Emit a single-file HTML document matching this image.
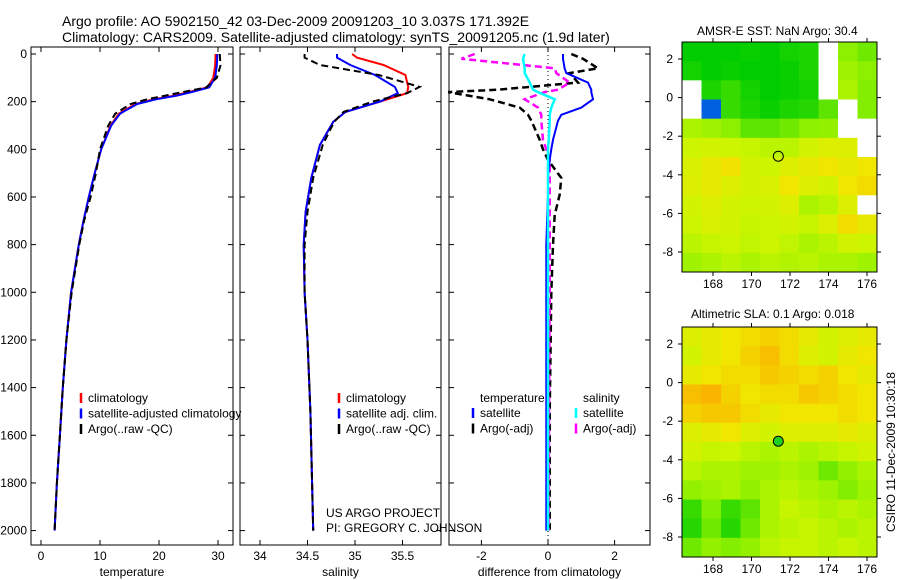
<!DOCTYPE html>
<html><head><meta charset="utf-8"><style>
body{margin:0;background:#fff;}
svg{display:block;font-family:"Liberation Sans",sans-serif;}
</style></head><body>
<svg id="chart" width="900" height="580" viewBox="0 0 900 580">
<text x="62" y="26" font-size="14">Argo profile: AO 5902150_42 03-Dec-2009 20091203_10 3.037S 171.392E</text>
<text x="62" y="42" font-size="14">Climatology: CARS2009. Satellite-adjusted climatology: synTS_20091205.nc (1.9d later)</text>
<text x="697" y="35" font-size="12">AMSR-E SST: NaN Argo: 30.4</text>
<text x="691" y="318" font-size="12">Altimetric SLA: 0.1 Argo: 0.018</text>
<text transform="translate(895,532) rotate(-90)" font-size="12">CSIRO 11-Dec-2009 10:30:18</text>
<g id="g"></g>
</svg>
<script>
// ---- data ----
const tDepth=[0,50,100,140,160,175,190,210,250,300,400,500,600,700,800,1000,1200,1400,1600,1800,2000];
const tClim=[29.6,29.5,29.2,28.2,25,22.5,19,16,13.2,11.8,10.2,9.1,8.1,7.2,6.4,5.1,4.3,3.7,3.2,2.7,2.3];
const tSat=[29.9,29.8,29.5,28.5,25.5,23,19.5,16.3,13.4,11.9,10.2,9.1,8.1,7.2,6.4,5.1,4.3,3.7,3.2,2.7,2.3];
const tArgo=[30.3,30.4,29.8,28,24,21,18,15.2,12.6,11.4,10.0,9.3,8.4,7.3,6.5,5.2,4.3,3.7,3.2,2.7,2.3];
const sDepth=[0,15,46,88,138,164,200,243,285,382,520,663,800,1000,1200,1500,2000];
const sClim=[34.97,35.02,35.3,35.53,35.56,35.55,35.26,34.9,34.77,34.63,34.54,34.48,34.46,34.47,34.5,34.53,34.56];
const sSat=[34.81,34.81,34.95,35.21,35.42,35.45,35.26,34.9,34.77,34.63,34.54,34.48,34.46,34.47,34.5,34.53,34.56];
const sArgo=[34.47,34.47,34.63,35.25,35.68,35.55,35.18,34.88,34.78,34.66,34.56,34.5,34.47,34.47,34.5,34.53,34.56];
const dDepth=[0,20,60,80,120,150,160,190,225,255,280,360,400,445,520,590,675,800,1000,1500,2000];
const dTsat=[0.45,0.45,0.5,0.55,1.2,1.3,1.3,1.35,1.0,0.4,0.3,0.15,0.1,0.05,0,0,-0.02,-0.05,-0.05,-0.05,-0.05];
const dTargo=[0.7,1.05,1.5,0.65,0.9,-1.5,-3,-1.75,-0.85,-0.6,-0.5,-0.25,-0.15,0,0.4,0.35,0.2,0.15,0.1,0.05,0.05];
const dSsat=[-0.7,-0.75,-0.7,-0.7,-0.55,-0.45,-0.3,0.2,0.1,0.05,0.05,0.02,0,0,0,0,0,0,0,0,0];
const dSargo=[-2.2,-2.6,0.2,0.25,0.65,0.3,-0.1,-0.7,-0.3,-0.2,-0.2,-0.15,-0.05,0.05,0.05,0.05,0.05,0.05,0.05,0.03,0.02];
const depthTicks=[0,200,400,600,800,1000,1200,1400,1600,1800,2000];
const tTicks=[0,10,20,30], sTicks=[34,34.5,35,35.5], dTicks=[-2,0,2];
const lonTicks=[168,170,172,174,176], latTicks=[2,0,-2,-4,-6,-8];
const sstGrid=[
[.30,.28,.30,.31,.30,.32,.33,null,.45,.42],
[.32,.30,.31,.28,.30,.31,.33,null,.48,.45],
[null,.33,.36,.32,.30,.31,.32,null,.50,.44],
[null,.12,.36,.33,.31,.33,.34,.40,null,.44],
[.50,.48,.45,.40,.40,.42,.45,.46,null,null],
[.55,.56,.55,.54,.52,.52,.56,.58,.58,null],
[.57,.60,.63,.56,.55,.58,.60,.62,.60,.62],
[.58,.60,.58,.56,.57,.62,.58,.56,.62,.64],
[.56,.58,.56,.55,.56,.58,.50,.52,.58,null],
[.55,.57,.56,.54,.55,.56,.54,.58,.64,.60],
[.52,.54,.55,.53,.55,.53,.50,.52,.56,.55],
[.48,.50,.52,.50,.52,.51,.52,.50,.50,.48]];
const slaGrid=[
[.58,.60,.62,.64,.66,.64,.60,.56,.58,.60],
[.56,.60,.62,.66,.70,.64,.58,.56,.60,.62],
[.60,.62,.64,.64,.68,.66,.64,.66,.62,.60],
[.70,.72,.66,.62,.64,.64,.68,.66,.64,.62],
[.66,.68,.68,.64,.60,.62,.62,.62,.64,.62],
[.58,.60,.62,.58,.56,.58,.58,.58,.60,.58],
[.56,.54,.55,.52,.50,.52,.50,.52,.54,.56],
[.52,.50,.50,.48,.48,.50,.48,.42,.46,.50],
[.46,.48,.50,.46,.50,.52,.50,.48,.44,.48],
[.36,.44,.36,.40,.50,.54,.52,.50,.52,.50],
[.34,.42,.34,.42,.50,.52,.54,.52,.50,.52],
[.42,.46,.44,.46,.52,.54,.54,.52,.54,.52]];
// ---- helpers ----
const NS='http://www.w3.org/2000/svg', G=document.getElementById('g');
function mk(t,a,txt){const e=document.createElementNS(NS,t);for(const k in a)e.setAttribute(k,a[k]);if(txt!==undefined)e.textContent=txt;G.appendChild(e);return e;}
const yD=d=>54+d*0.2383;
const xT=v=>41+v*5.9, xS=v=>260+(v-34)*95, xDf=v=>548+v*33.3;
function panel(x0,x1,xf,ticks,label,name){
  const r=mk('rect',{x:x0,y:47,width:x1-x0,height:498,fill:'none',stroke:'#000','stroke-width':1});
  
  ticks.forEach(t=>{const x=xf(t);
    const l=mk('line',{x1:x,x2:x,y1:545,y2:540,stroke:'#000'});
    mk('line',{x1:x,x2:x,y1:47,y2:52,stroke:'#000'});
    const tx=mk('text',{x:x,y:560,'font-size':12,'text-anchor':'middle'},String(t));});
  const lb=mk('text',{x:(x0+x1)/2,y:576,'font-size':12,'text-anchor':'middle'},label);
  
  depthTicks.forEach(d=>{const y=yD(d);mk('line',{x1:x0,x2:x0+5,y1:y,y2:y,stroke:'#000'});mk('line',{x1:x1,x2:x1-5,y1:y,y2:y,stroke:'#000'});});
}
function line(xs,ds,xf,col,dash,w,name){
  const pts=xs.map((v,i)=>xf(v).toFixed(1)+','+yD(ds[i]).toFixed(1)).join(' ');
  const p=mk('polyline',{points:pts,fill:'none',stroke:col,'stroke-width':w,'stroke-dasharray':dash||'none'});
  
}
function legend(x,y,items,name){items.forEach((it,i)=>{const yy=y+i*15.5;
  mk('line',{x1:x,x2:x,y1:yy-9,y2:yy+1,stroke:it[1],'stroke-width':2.5});
  const t=mk('text',{x:x+7,y:yy,'font-size':12},it[0]);});}
// depth labels
depthTicks.forEach(d=>{const t=mk('text',{x:27,y:yD(d)+4,'font-size':12,'text-anchor':'end'},String(d));});
// panel 1
panel(31,233,xT,tTicks,'temperature','temp-panel');
line(tClim,tDepth,xT,'#f00','',2,'temp-climatology-line');
line(tSat,tDepth,xT,'#00f','',2,'temp-satellite-line');
line(tArgo,tDepth,xT,'#000','7,4',2,'temp-argo-line');
legend(81,402,[['climatology','#f00'],['satellite-adjusted climatology','#00f'],['Argo(..raw -QC)','#000']],'temp-legend');
// panel 2
panel(240,441,xS,sTicks,'salinity','sal-panel');
line(sClim,sDepth,xS,'#f00','',2,'sal-climatology-line');
line(sSat,sDepth,xS,'#00f','',2,'sal-satellite-line');
line(sArgo,sDepth,xS,'#000','7,4',2,'sal-argo-line');
legend(339,402,[['climatology','#f00'],['satellite adj. clim.','#00f'],['Argo(..raw -QC)','#000']],'sal-legend');
mk('text',{x:326,y:517,'font-size':12},'US ARGO PROJECT');
mk('text',{x:326,y:532,'font-size':12},'PI: GREGORY C. JOHNSON');
// panel 3
panel(449,650,xDf,dTicks,'difference from climatology','diff-panel');
mk('line',{x1:xDf(0),x2:xDf(0),y1:47,y2:545,stroke:'#000','stroke-dasharray':'1,3'});
line(dTargo,dDepth,xDf,'#000','7,4',2.5,'diff-temp-argo-line');
line(dSargo,dDepth,xDf,'#f0f','7,4',2.5,'diff-sal-argo-line');
line(dTsat,dDepth,xDf,'#00f','',2,'diff-temp-satellite-line');
line(dSsat,dDepth,xDf,'#0ff','',2.5,'diff-sal-satellite-line');
mk('text',{x:480,y:402,'font-size':12},'temperature');
mk('text',{x:583,y:402,'font-size':12},'salinity');
legend(473,417,[['satellite','#00f'],['Argo(-adj)','#000']],'diff-temp-legend');
legend(576,417,[['satellite','#0ff'],['Argo(-adj)','#f0f']],'diff-sal-legend');
// maps
function col(v){if(v<0.2)return '#0060e0';
  const stops=[[0.3,[0,205,0]],[0.45,[140,240,0]],[0.55,[205,245,0]],[0.62,[240,230,0]],[0.72,[250,180,0]]];
  if(v<=stops[0][0])return 'rgb(0,205,0)';
  for(let i=1;i<stops.length;i++){if(v<=stops[i][0]){const a=stops[i-1],b=stops[i],f=(v-a[0])/(b[0]-a[0]);
    return 'rgb('+a[1].map((c,j)=>Math.round(c+(b[1][j]-c)*f)).join(',')+')';}}
  return 'rgb(250,180,0)';}
function map(y0,grid,name,dotFill){
  const x0=682,x1=877,y1=y0+230;
  const xL=lon=>713+(lon-168)*19.25, yL=lat=>y0+17+(2-lat)*19.3;
  const rows=grid.length,cols=grid[0].length,cw=(x1-x0)/cols,ch=(y1-y0)/rows;
  grid.forEach((r,i)=>r.forEach((v,j)=>{const c=mk('rect',{x:x0+j*cw,y:y0+i*ch,width:cw+0.5,height:ch+0.5,fill:v===null?'#fff':col(v)});
    }));
  const f=mk('rect',{x:x0,y:y0,width:x1-x0,height:y1-y0,fill:'none',stroke:'#000'});
  lonTicks.forEach(l=>{const x=xL(l);mk('line',{x1:x,x2:x,y1:y1,y2:y1+4,stroke:'#000'});mk('line',{x1:x,x2:x,y1:y0,y2:y0-4,stroke:'#000'});
    const t=mk('text',{x:x,y:y1+16,'font-size':12,'text-anchor':'middle'},String(l));});
  latTicks.forEach(l=>{const y=yL(l);mk('line',{x1:x0-4,x2:x0,y1:y,y2:y,stroke:'#000'});mk('line',{x1:x1,x2:x1+4,y1:y,y2:y,stroke:'#000'});
    const t=mk('text',{x:673,y:y+4,'font-size':12,'text-anchor':'end'},String(l));});
  const d=mk('circle',{cx:xL(171.392),cy:yL(-3.037),r:5,fill:dotFill,stroke:'#000'});
}
map(42,sstGrid,'sst-map','none');
map(327,slaGrid,'sla-map','#20d020');
</script>
</body></html>
